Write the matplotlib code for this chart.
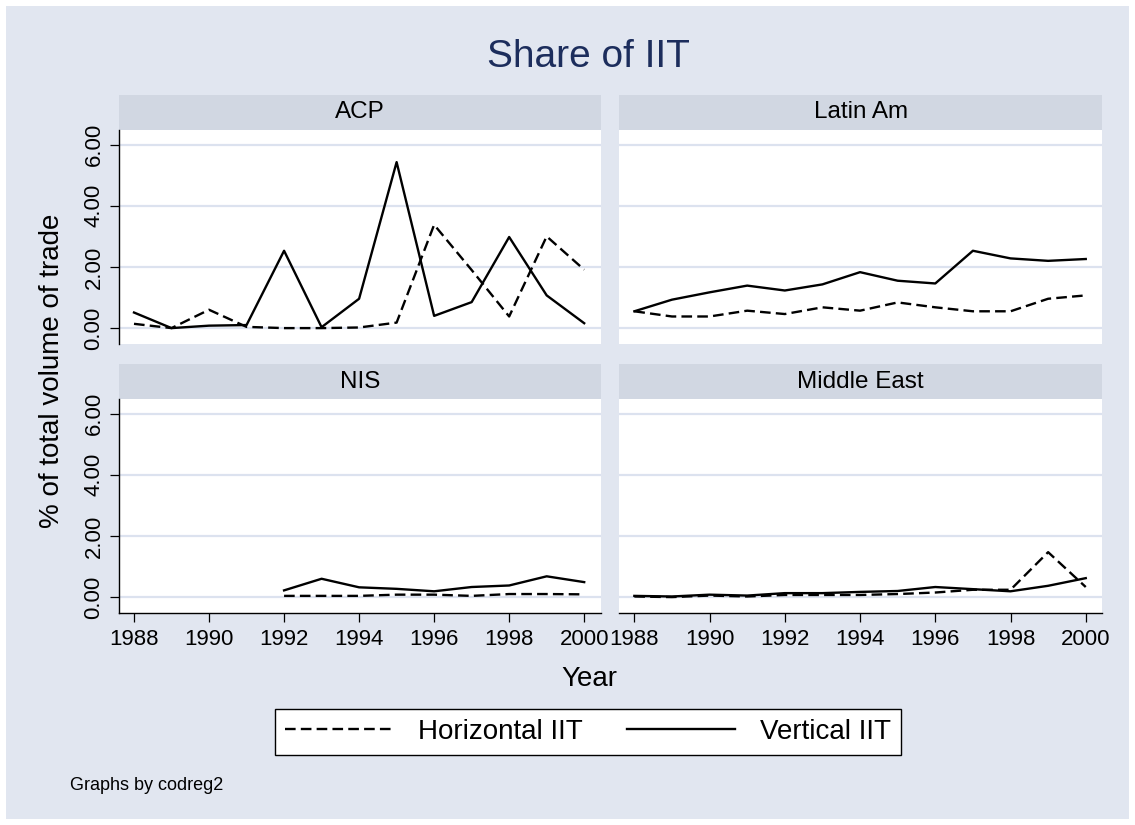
import matplotlib.pyplot as plt
from matplotlib.lines import Line2D
from matplotlib.patches import Rectangle
import numpy as np

plt.rcParams['font.family'] = ['Liberation Sans', 'DejaVu Sans']

years = list(range(1988, 2001))
regions = ["ACP", "Latin Am", "NIS", "Middle East"]

# % of total volume of trade
acp_horizontal = [0.14, 0.00, 0.60, 0.04, 0.00, 0.00, 0.02, 0.18, 3.38, 1.90, 0.38, 3.00, 1.91]
acp_vertical = [0.51, 0.00, 0.08, 0.10, 2.53, 0.03, 0.96, 5.43, 0.40, 0.85, 2.98, 1.07, 0.16]
latin_horizontal = [0.55, 0.38, 0.38, 0.57, 0.46, 0.68, 0.57, 0.84, 0.68, 0.55, 0.55, 0.96, 1.07]
latin_vertical = [0.55, 0.93, 1.17, 1.39, 1.23, 1.43, 1.83, 1.55, 1.46, 2.53, 2.28, 2.20, 2.26]
nis_horizontal = [np.nan] * 4 + [0.04, 0.04, 0.04, 0.08, 0.08, 0.04, 0.10, 0.10, 0.09]
nis_vertical = [np.nan] * 4 + [0.22, 0.60, 0.32, 0.27, 0.19, 0.33, 0.38, 0.68, 0.49]
me_horizontal = [0.02, 0.00, 0.05, 0.02, 0.07, 0.07, 0.07, 0.10, 0.15, 0.24, 0.24, 1.47, 0.33]
me_vertical = [0.04, 0.02, 0.08, 0.05, 0.13, 0.13, 0.17, 0.20, 0.33, 0.26, 0.19, 0.37, 0.62]

horizontal = [acp_horizontal, latin_horizontal, nis_horizontal, me_horizontal]
vertical = [acp_vertical, latin_vertical, nis_vertical, me_vertical]

yticks = [0, 2, 4, 6]
xticks = [1988, 1990, 1992, 1994, 1996, 1998, 2000]

W, H = 1135, 825
BG = "#E1E6F0"
STRIP = "#D1D7E2"
GRID = "#DCE2EF"
NAVY = "#1C2D5C"
DASH = (0, (4.5, 2.2))

fig = plt.figure(figsize=(W / 100, H / 100), dpi=100)
fig.patch.set_facecolor("white")
fig.patches.append(Rectangle((6 / W, 1 - 819 / H), 1123 / W, 813 / H,
                             transform=fig.transFigure, facecolor=BG,
                             edgecolor="none", zorder=-10))


def px_box(x0, y0, x1, y1):
    return [x0 / W, 1 - y1 / H, (x1 - x0) / W, (y1 - y0) / H]


cols = [(119, 600.7), (619.3, 1102.3)]
rows = [(130, 344), (399, 613)]

for i, name in enumerate(regions):
    r, c = divmod(i, 2)
    x0, x1 = cols[c]
    y0, y1 = rows[r]

    strip = fig.add_axes(px_box(x0, y0 - 35, x1, y0))
    strip.set_facecolor(STRIP)
    strip.set_xticks([])
    strip.set_yticks([])
    for s in strip.spines.values():
        s.set_visible(False)
    strip.text(0.5, 0.5, name, ha="center", va="center", fontsize=17.5,
               transform=strip.transAxes)

    ax = fig.add_axes(px_box(x0, y0, x1, y1))
    ax.set_facecolor("white")
    ax.plot(years, horizontal[i], color="black", lw=1.7, linestyle=DASH)
    ax.plot(years, vertical[i], color="black", lw=1.7)
    ax.set_xlim(1987.6, 2000.44)
    ax.set_ylim(-0.52, 6.48)
    ax.set_yticks(yticks)
    ax.set_xticks(xticks)
    ax.grid(axis="y", color=GRID, lw=1.6)
    ax.set_axisbelow(True)
    for s in ax.spines.values():
        s.set_visible(False)

    if c == 0:
        ax.spines["left"].set_visible(True)
        ax.spines["left"].set_linewidth(1.0)
        ax.set_yticklabels([f"{v:.2f}" for v in yticks])
        ax.tick_params(axis="y", length=6.5, width=0.9, pad=4, labelsize=16,
                       labelrotation=90)
        for lab in ax.get_yticklabels():
            lab.set_va("center")
    else:
        ax.tick_params(axis="y", length=0, labelleft=False)

    if r == 1:
        ax.spines["bottom"].set_visible(True)
        ax.spines["bottom"].set_linewidth(1.0)
        ax.set_xticklabels([str(v) for v in xticks])
        ax.tick_params(axis="x", length=6.7, width=0.9, pad=5, labelsize=16)
    else:
        ax.tick_params(axis="x", length=0, labelbottom=False)

fig.text(588 / W, 1 - 57 / H, "Share of IIT", ha="center", va="center",
         fontsize=28, color=NAVY)
fig.text(52 / W, 1 - 371 / H, "% of total volume of trade", ha="center",
         va="center", rotation=90, fontsize=20)
fig.text(589 / W, 1 - 679 / H, "Year", ha="center", va="center", fontsize=20)
fig.text(70 / W, 1 - 786 / H, "Graphs by codreg2", ha="left", va="center",
         fontsize=13)

handles = [Line2D([], [], color="black", lw=1.7, linestyle=DASH),
           Line2D([], [], color="black", lw=1.7)]
leg = fig.legend(handles, ["Horizontal IIT", "Vertical IIT"], ncol=2,
                 loc="center", bbox_to_anchor=(588 / W, 1 - 732 / H),
                 fontsize=20, handlelength=3.9, handletextpad=0.9,
                 columnspacing=1.6, borderpad=0.35, fancybox=False,
                 frameon=True, edgecolor="black", framealpha=1)
leg.get_frame().set_linewidth(1.0)

fig.savefig("out.png", dpi=100, facecolor="white")
